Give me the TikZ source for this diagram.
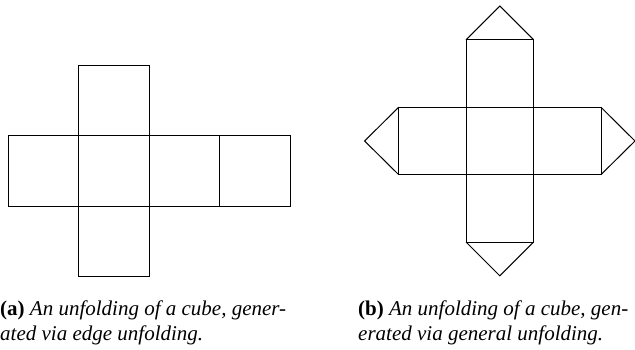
\documentclass[tikz,border=0pt]{standalone}
\usepackage{fontspec}
\setmainfont{Liberation Serif}
\begin{document}
\begin{tikzpicture}[x=1pt,y=-1pt,
  face/.style={draw=black,line width=1pt,line join=miter},
  captext/.style={anchor=base west,inner sep=0pt,font=\fontsize{21}{24}\selectfont\itshape}]
\useasboundingbox (0,0) rectangle (635,350);
\clip (0,0) rectangle (635,350);
% (a) edge unfolding
\def\xa{8}\def\xb{78.7}\def\xc{149.2}\def\xd{219.6}\def\xe{290.1}
\def\ya{65.3}\def\yb{135.8}\def\yc{206.3}\def\yd{276.8}
\draw[face] (\xb,\ya) rectangle (\xc,\yb);
\draw[face] (\xa,\yb) rectangle (\xb,\yc);
\draw[face] (\xb,\yb) rectangle (\xc,\yc);
\draw[face] (\xc,\yb) rectangle (\xd,\yc);
\draw[face] (\xd,\yb) rectangle (\xe,\yc);
\draw[face] (\xb,\yc) rectangle (\xc,\yd);
% (b) general unfolding
\draw[face] (466,39.8) rectangle (533.6,107.3);
\draw[face] (398.6,107.3) rectangle (466,174.6);
\draw[face] (466,107.3) rectangle (533.6,174.6);
\draw[face] (533.6,107.3) rectangle (601,174.6);
\draw[face] (466,174.6) rectangle (533.6,242);
\draw[face] (466,39.8) -- (499.8,6) -- (533.6,39.8);
\draw[face] (466,242) -- (499.8,275.8) -- (533.6,242);
\draw[face] (398.6,107.3) -- (364.6,141) -- (398.6,174.6);
\draw[face] (601,107.3) -- (635,141) -- (601,174.6);
% captions
\node[captext] (ca1) at (0,315) {{\upshape\bfseries (a)} An unfolding of a cube, gener-};
\node[captext] (ca2) at (0,340) {ated via edge unfolding.};
\node[captext] (cb1) at (358,315) {{\upshape\bfseries (b)} An unfolding of a cube, gen-};
\node[captext] (cb2) at (358,340) {erated via general unfolding.};
\end{tikzpicture}
\end{document}
